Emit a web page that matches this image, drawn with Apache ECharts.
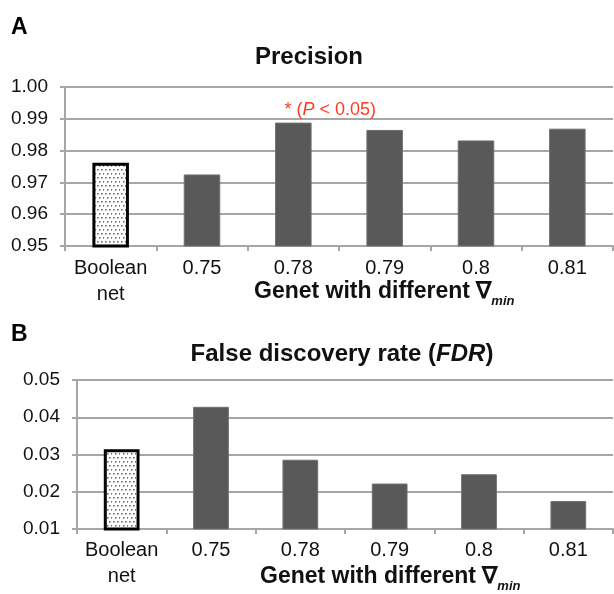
<!DOCTYPE html>
<html>
<head>
<meta charset="utf-8">
<script src="https://cdn.jsdelivr.net/npm/echarts@6/dist/echarts.min.js"></script>
<style>
html,body{margin:0;padding:0;background:#fff;}
#chart{width:614px;height:594px;}
</style>
</head>
<body>
<div id="chart"></div>
<script>
// ---- Data ----
const categories = ['Boolean\nnet', '0.75', '0.78', '0.79', '0.8', '0.81'];
const precision = [0.9762, 0.9725, 0.9888, 0.9865, 0.9832, 0.9869];
const fdr = [0.0314, 0.0428, 0.0286, 0.0222, 0.0247, 0.0175];
const precisionAxis = [0.95, 1.00, 0.01];   // min, max, step
const fdrAxis = [0.01, 0.05, 0.01];
const significantIndex = 2;
const significantText = '* ({i|P} < 0.05)';
const titleA = 'Precision';
const titleB = '{b|False discovery rate (}{bi|FDR}{b|)}';
const xAxisName = '{b|Genet with different \u2207}{s|min}';

// ---- Styles ----
const FONT = '"Liberation Sans", Arial, sans-serif';
const GRID_COLOR = '#a6a6a6';
const BAR_COLOR = '#595959';

function dotPattern() {
  const c = document.createElement('canvas');
  c.width = 8; c.height = 8;
  const ctx = c.getContext('2d');
  ctx.fillStyle = '#ffffff';
  ctx.fillRect(0, 0, 8, 8);
  ctx.fillStyle = '#6e6e6e';
  [[1,1],[5,1],[3,5],[7,5]].forEach(p => { ctx.fillRect(p[0], p[1], 1.6, 1.6); });
  return c;
}
const pattern = {image: dotPattern(), repeat: 'repeat'};

function buildData(values, withAnnot) {
  return values.map((v, i) => {
    const item = {value: v};
    if (i === 0) {
      item.itemStyle = {color: pattern, borderColor: '#000', borderWidth: 3};
    }
    if (withAnnot && i === significantIndex) {
      item.label = {
        show: true, position: 'top', distance: 4, offset: [37, 0],
        formatter: significantText,
        color: '#ff3b22', fontSize: 18, fontFamily: FONT,
        rich: {i: {fontStyle: 'italic', color: '#ff3b22', fontSize: 18, fontFamily: FONT}}
      };
    }
    return item;
  });
}

function xAxisCfg(gridIndex, margin) {
  return {
    type: 'category', gridIndex: gridIndex, data: categories,
    axisLine: {show: true, lineStyle: {color: GRID_COLOR, width: 2}},
    axisTick: {show: true, length: 5, interval: 0, lineStyle: {color: GRID_COLOR, width: 2}},
    axisLabel: {color: '#111', fontSize: 20, fontFamily: FONT, lineHeight: 26, margin: margin, interval: 0}
  };
}
function yAxisCfg(gridIndex, rng, margin) {
  return {
    type: 'value', gridIndex: gridIndex, min: rng[0], max: rng[1], interval: rng[2],
    axisLine: {show: true, lineStyle: {color: GRID_COLOR, width: 2}},
    axisTick: {show: true, length: 5, lineStyle: {color: GRID_COLOR, width: 2}},
    splitLine: {show: true, lineStyle: {color: GRID_COLOR, width: 2}},
    axisLabel: {color: '#111', fontSize: 19, fontFamily: FONT, margin: margin,
      formatter: v => v.toFixed(2)}
  };
}

const chart = echarts.init(document.getElementById('chart'), null, {renderer: 'canvas'});
chart.setOption({
  animation: false,
  backgroundColor: '#fff',
  grid: [
    {left: 65, right: 1, top: 87, bottom: 348},
    {left: 77, right: 1, top: 380, bottom: 65}
  ],
  xAxis: [xAxisCfg(0, 9), xAxisCfg(1, 8)],
  yAxis: [yAxisCfg(0, precisionAxis, 17), yAxisCfg(1, fdrAxis, 17)],
  series: [
    {type: 'bar', xAxisIndex: 0, yAxisIndex: 0, barWidth: '40%',
     itemStyle: {color: BAR_COLOR, borderColor: '#707070', borderWidth: 1},
     data: buildData(precision, true)},
    {type: 'bar', xAxisIndex: 1, yAxisIndex: 1, barWidth: '40%',
     itemStyle: {color: BAR_COLOR, borderColor: '#707070', borderWidth: 1},
     data: buildData(fdr, false)}
  ],
  graphic: [
    {type: 'text', left: 11, top: 16, style: {text: 'A', font: 'bold 23px ' + FONT, fill: '#000'}},
    {type: 'text', left: 11, top: 323, style: {text: 'B', font: 'bold 23px ' + FONT, fill: '#000'}},
    {type: 'text', x: 309, y: 57, style: {text: titleA, font: 'bold 24px ' + FONT, fill: '#111', align: 'center', verticalAlign: 'middle'}},
    {type: 'text', x: 342, y: 354, style: {text: titleB, align: 'center', verticalAlign: 'middle',
      rich: {b: {fontWeight: 'bold', fontSize: 24, fontFamily: FONT, fill: '#111'},
             bi: {fontWeight: 'bold', fontStyle: 'italic', fontSize: 24, fontFamily: FONT, fill: '#111'}}}},
    {type: 'text', x: 254, y: 292, style: {text: xAxisName, align: 'left', verticalAlign: 'middle',
      rich: {b: {fontWeight: 'bold', fontSize: 23, fontFamily: FONT, fill: '#111', lineHeight: 32},
             s: {fontWeight: 'bold', fontStyle: 'italic', fontSize: 13, fontFamily: FONT, fill: '#111', lineHeight: 10, verticalAlign: 'bottom'}}}},
    {type: 'text', x: 260, y: 577, style: {text: xAxisName, align: 'left', verticalAlign: 'middle',
      rich: {b: {fontWeight: 'bold', fontSize: 23, fontFamily: FONT, fill: '#111', lineHeight: 32},
             s: {fontWeight: 'bold', fontStyle: 'italic', fontSize: 13, fontFamily: FONT, fill: '#111', lineHeight: 10, verticalAlign: 'bottom'}}}}
  ]
});
</script>
</body>
</html>
